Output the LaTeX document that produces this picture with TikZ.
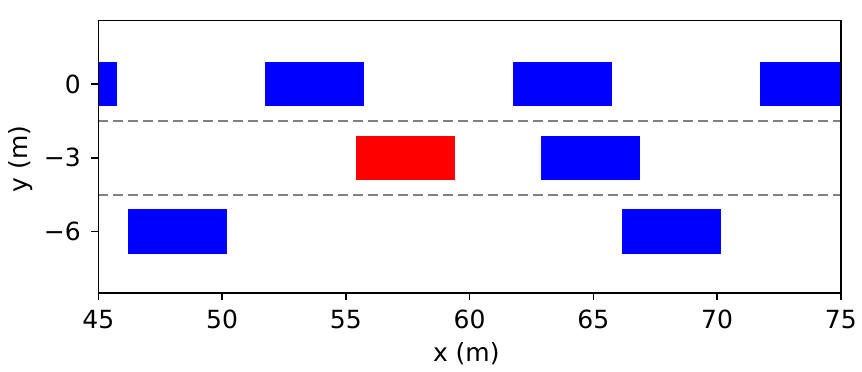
\documentclass[tikz,border=0pt]{standalone}
\usepackage{fontspec}
\setmainfont{DejaVu Sans}
\begin{document}
\begin{tikzpicture}[x=1pt,y=1pt,
  car/.style={fill=blue, draw=none},
  ego/.style={fill=red, draw=none},
  lanemark/.style={draw=gray, line width=2.2pt, dash pattern=on 10pt off 5pt},
  spine/.style={draw=black, line width=1.6pt},
  tickmark/.style={draw=black, line width=1.5pt},
  ticklbl/.style={font=\fontsize{25}{30}\selectfont, inner sep=0pt},
  axlbl/.style={font=\fontsize{25}{30}\selectfont, inner sep=0pt}]
\useasboundingbox (0,0) rectangle (862,372);
\begin{scope}[shift={(-1015.45pt,288pt)}, x=24.75pt, y=24.6pt]
  \begin{scope}
    \clip (45,-8.508) rectangle (75,2.573);
    \foreach \cx/\cy in {43.75/0, 53.75/0, 63.75/0, 73.75/0, 64.9/-3, 48.2/-6, 68.15/-6}
      \fill[car] ({\cx-2},{\cy-0.9}) rectangle ({\cx+2},{\cy+0.9});
    \fill[ego] (55.4,-3.9) rectangle (59.4,-2.1);
  \end{scope}
  \draw[lanemark] (45,-1.5) -- (75,-1.5);
  \draw[lanemark] (45,-4.5) -- (75,-4.5);
  \draw[spine] (45,-8.508) rectangle (75,2.573);
  \foreach \x in {45,50,...,75} {
    \draw[tickmark] (\x,-8.508) -- ++(0,-7pt);
    \node[ticklbl, anchor=base, yshift=-35.7pt] (xt\x) at (\x,-8.508) {\x};
  }
  \foreach \y/\l/\n in {0/0/a, -3/−3/b, -6/−6/c} {
    \draw[tickmark] (45,\y) -- ++(-7pt,0);
    \node[ticklbl, anchor=east, xshift=-17.3pt] (yt\n) at (45,\y) {\l};
  }
\end{scope}
\node[axlbl, anchor=base] (xlabel) at (466.3,10.5) {x (m)};
\node[axlbl, rotate=90] (ylabel) at (21,213) {y (m)};
\end{tikzpicture}
\end{document}
